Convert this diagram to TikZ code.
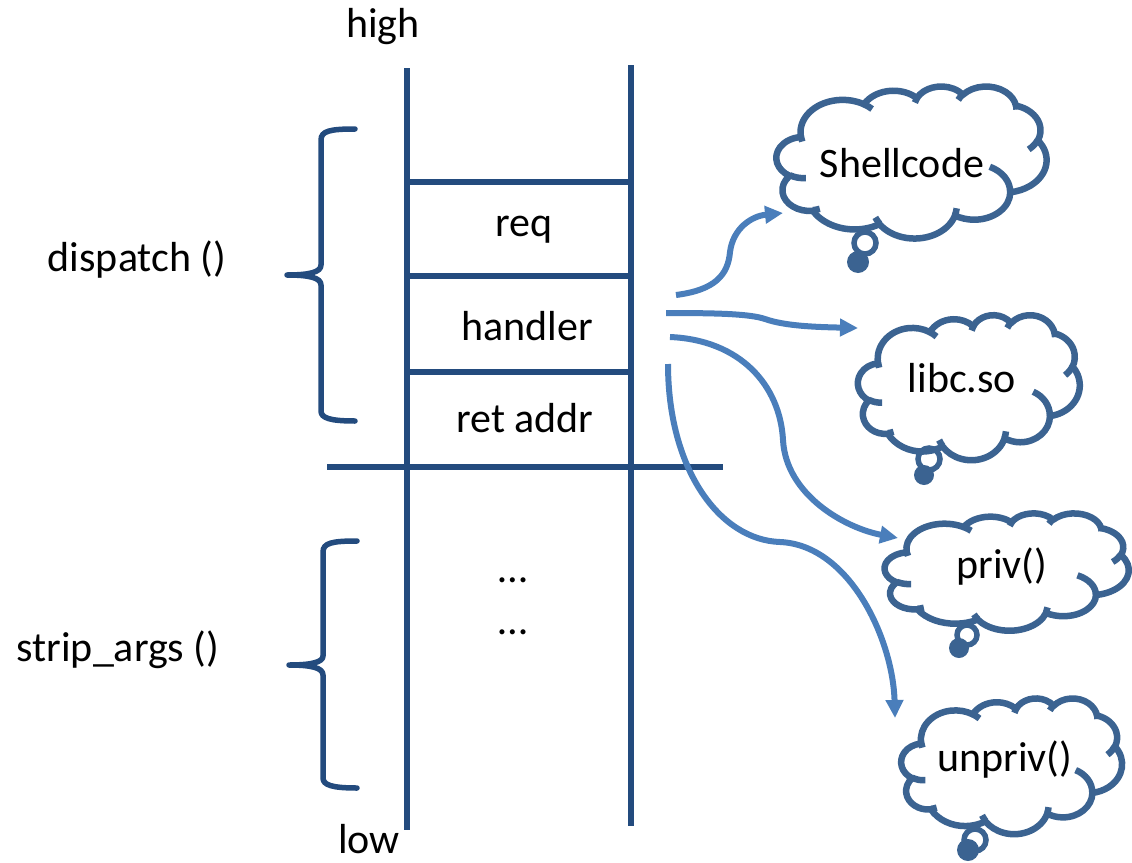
\documentclass[tikz,border=0pt]{standalone}
\usepackage{fontspec}
\setmainfont{Carlito}
\usetikzlibrary{arrows.meta}
\definecolor{stackblue}{HTML}{234B7E}
\definecolor{cloudblue}{HTML}{3B6391}
\definecolor{arrowblue}{HTML}{4A7EBB}
% parametric angles of the PowerPoint cloud arcs
\newcommand{\cldang}[5]{%
  \pgfmathsetmacro\cldtmpa{atan2(#2*sin(#4),#3*cos(#4))}%
  \pgfmathsetmacro\cldtmpb{atan2(#2*sin(#4+#5),#3*cos(#4+#5))}%
  \pgfmathsetmacro\cldtmpd{mod(\cldtmpb-\cldtmpa+720,360)}%
  \expandafter\let\csname cldS#1\endcsname\cldtmpa
  \expandafter\let\csname cldD#1\endcsname\cldtmpd}
\cldang{a}{67.53}{91.90}{-190.4875}{123.7805}
\cldang{b}{53.33}{72.67}{-144.1024}{89.9452}
\cldang{c}{43.65}{59.45}{-145.8079}{99.7230}
\cldang{d}{48.57}{65.95}{-130.9861}{117.2417}
\cldang{e}{53.33}{72.73}{-78.7089}{109.0269}
\cldang{f}{67.75}{92.20}{-46.2673}{130.2690}
\cldang{g}{57.85}{78.67}{0.6250}{114.0333}
\cldang{h}{67.52}{92.15}{22.4516}{115.1726}
\cldang{i}{77.20}{105.43}{66.2426}{75.7110}
\cldang{j}{43.60}{59.18}{-274.9421}{146.7356}
\cldang{k}{43.45}{59.45}{-246.8285}{152.5189}
\cldang{A}{43.45}{59.45}{86.7420}{26.4295}
\cldang{B}{43.60}{59.18}{73.6105}{11.4475}
\cldang{C}{67.52}{92.15}{137.6242}{14.0811}
\cldang{D}{67.52}{92.15}{6.4533}{15.9984}
\cldang{E}{57.85}{78.67}{-70.2924}{70.9174}
\cldang{F}{53.33}{72.73}{30.3180}{27.7515}
\cldang{G}{48.57}{65.95}{-13.7443}{14.8589}
\cldang{H}{48.57}{65.95}{-149.1815}{18.1954}
\cldang{I}{43.65}{59.45}{-163.4943}{17.6864}
\cldang{J}{67.53}{91.90}{-66.7070}{12.3194}
\cldang{K}{67.53}{91.90}{157.6544}{11.8582}
% #1 left, #2 top, #3 width, #4 height (pixels)
\newcommand{\pptcloud}[4]{%
  \pgfmathsetmacro\cldsx{#3/432}\pgfmathsetmacro\cldsy{#4/432}%
  \begin{scope}[shift={(#1pt,-#2pt)}, x=\cldsx pt, y=-\cldsy pt]
  \filldraw[cloudline, fill=white] (39.00,143.70)
    arc[start angle=\cldSa, delta angle=\cldDa, x radius=67.53, y radius=91.90]
    arc[start angle=\cldSb, delta angle=\cldDb, x radius=53.33, y radius=72.67]
    arc[start angle=\cldSc, delta angle=\cldDc, x radius=43.65, y radius=59.45]
    arc[start angle=\cldSd, delta angle=\cldDd, x radius=48.57, y radius=65.95]
    arc[start angle=\cldSe, delta angle=\cldDe, x radius=53.33, y radius=72.73]
    arc[start angle=\cldSf, delta angle=\cldDf, x radius=67.75, y radius=92.20]
    arc[start angle=\cldSg, delta angle=\cldDg, x radius=57.85, y radius=78.67]
    arc[start angle=\cldSh, delta angle=\cldDh, x radius=67.52, y radius=92.15]
    arc[start angle=\cldSi, delta angle=\cldDi, x radius=77.20, y radius=105.43]
    arc[start angle=\cldSj, delta angle=\cldDj, x radius=43.60, y radius=59.18]
    arc[start angle=\cldSk, delta angle=\cldDk, x radius=43.45, y radius=59.45]
    -- cycle;
  \draw[cloudline]
    (46.93,261.77) arc[start angle=\cldSA, delta angle=\cldDA, x radius=43.45, y radius=59.45]
    (69.28,348.99) arc[start angle=\cldSB, delta angle=\cldDB, x radius=43.60, y radius=59.18]
    (164.78,390.90) arc[start angle=\cldSC, delta angle=\cldDC, x radius=67.52, y radius=92.15]
    (288.27,347.51) arc[start angle=\cldSD, delta angle=\cldDD, x radius=67.52, y radius=92.15]
    (341.29,229.54) arc[start angle=\cldSE, delta angle=\cldDE, x radius=57.85, y radius=78.67]
    (417.98,153.54) arc[start angle=\cldSF, delta angle=\cldDF, x radius=53.33, y radius=72.73]
    (383.24,54.26) arc[start angle=\cldSG, delta angle=\cldDG, x radius=48.57, y radius=65.95]
    (290.78,39.52) arc[start angle=\cldSH, delta angle=\cldDH, x radius=48.57, y radius=65.95]
    (221.41,47.20) arc[start angle=\cldSI, delta angle=\cldDI, x radius=43.65, y radius=59.45]
    (140.00,51.92) arc[start angle=\cldSJ, delta angle=\cldDJ, x radius=67.53, y radius=91.90]
    (41.27,157.89) arc[start angle=\cldSK, delta angle=\cldDK, x radius=67.53, y radius=91.90];
  \end{scope}}
\begin{document}
\begin{tikzpicture}[x=1pt,y=-1pt,
  lbl/.style={font=\fontsize{42}{50}\selectfont, inner sep=0pt, text=black},
  stackline/.style={draw=stackblue, line width=5.5pt},
  bracestyle/.style={draw=stackblue, line width=5.5pt, line cap=round, line join=round},
  cloudline/.style={draw=cloudblue, line width=6.5pt, line join=round},
  tailring/.style={draw=cloudblue, line width=5.5pt},
  flow/.style={draw=arrowblue, line width=6pt, -{Triangle[length=18pt,width=17pt]}}]
\useasboundingbox (0,0) rectangle (1132,862);
% stack
\coordinate (LT) at (407,68);
\coordinate (LB) at (407,830);
\coordinate (RT) at (631,65);
\coordinate (RB) at (631,826);
\draw[stackline] (LT) -- (LB);
\draw[stackline] (RT) -- (RB);
\draw[stackline] (407,182) -- (631,182);
\draw[stackline] (407,276) -- (631,276);
\draw[stackline] (407,372) -- (631,372);
\draw[stackline] (327,467) -- (723,467);
\node[lbl] (high) at (383,27) {high};
\node[lbl] (low) at (369,839) {low};
\node[lbl] (req) at (524,230) {req};
\node[lbl] (handler) at (527,326) {handler};
\node[lbl] (retaddr) at (525,418) {ret addr};
\node[lbl] (dots1) at (513,580) {…};
\node[lbl] (dots2) at (513,632) {…};
% braces
\draw[bracestyle] (355,129) .. controls (330,129) and (321,131) .. (321,140) -- (321,265)
  .. controls (321,272) and (310,275) .. (287,275)
  .. controls (310,275) and (321,278) .. (321,285) -- (321,411)
  .. controls (321,418) and (330,421) .. (355,421);
\node[lbl] (dispatch) at (137,260) {dispatch ()};
\draw[bracestyle] (357,541) .. controls (332,541) and (323,543) .. (323,552) -- (323,656)
  .. controls (323,662) and (312,665) .. (289,665)
  .. controls (312,665) and (323,668) .. (323,675) -- (323,778)
  .. controls (323,785) and (332,788) .. (357,788);
\node[lbl] (strip) at (118,650) {strip\_args ()};
% clouds
\pptcloud{776.5}{86}{270}{152}
\draw[tailring] (865,243) circle (11pt);
\fill[cloudblue] (858,262) circle (11pt);
\node[lbl] (t1) at (902,163) {Shellcode};
\pptcloud{858}{314.7}{221.7}{145}
\draw[tailring] (929,459) circle (11pt);
\fill[cloudblue] (924,475) circle (10pt);
\node[lbl] (t2) at (962,378) {libc.so};
\pptcloud{884.7}{513}{244}{117.3}
\draw[tailring] (967,635) circle (10pt);
\fill[cloudblue] (959,648) circle (10pt);
\node[lbl] (t3) at (1002,567) {priv()};
\pptcloud{901.3}{698}{220.7}{135.7}
\draw[tailring] (975,840) circle (11pt);
\fill[cloudblue] (968,850) circle (11pt);
\node[lbl] (t4) at (1005,760) {unpriv()};
% arrows
\coordinate (s1) at (676,295);
\coordinate (e1) at (783,213);
\coordinate (s2) at (666,313);
\coordinate (e2) at (858,328);
\coordinate (s3) at (670,337);
\coordinate (e3) at (898,538);
\coordinate (s4) at (668,364);
\coordinate (e4) at (895,718);
\draw[flow] (s1) .. controls (715,290) and (728,275) .. (730,252) .. controls (733,228) and (752,216) .. (e1);
\draw[flow] (s2) .. controls (720,313) and (750,314) .. (765,319) .. controls (785,326) and (815,327) .. (e2);
\draw[flow] (s3) .. controls (740,340) and (780,385) .. (783,440) .. controls (786,495) and (845,528) .. (e3);
\draw[flow] (s4) .. controls (668,470) and (720,540) .. (780,542) .. controls (850,545) and (893,640) .. (e4);
\end{tikzpicture}
\end{document}
